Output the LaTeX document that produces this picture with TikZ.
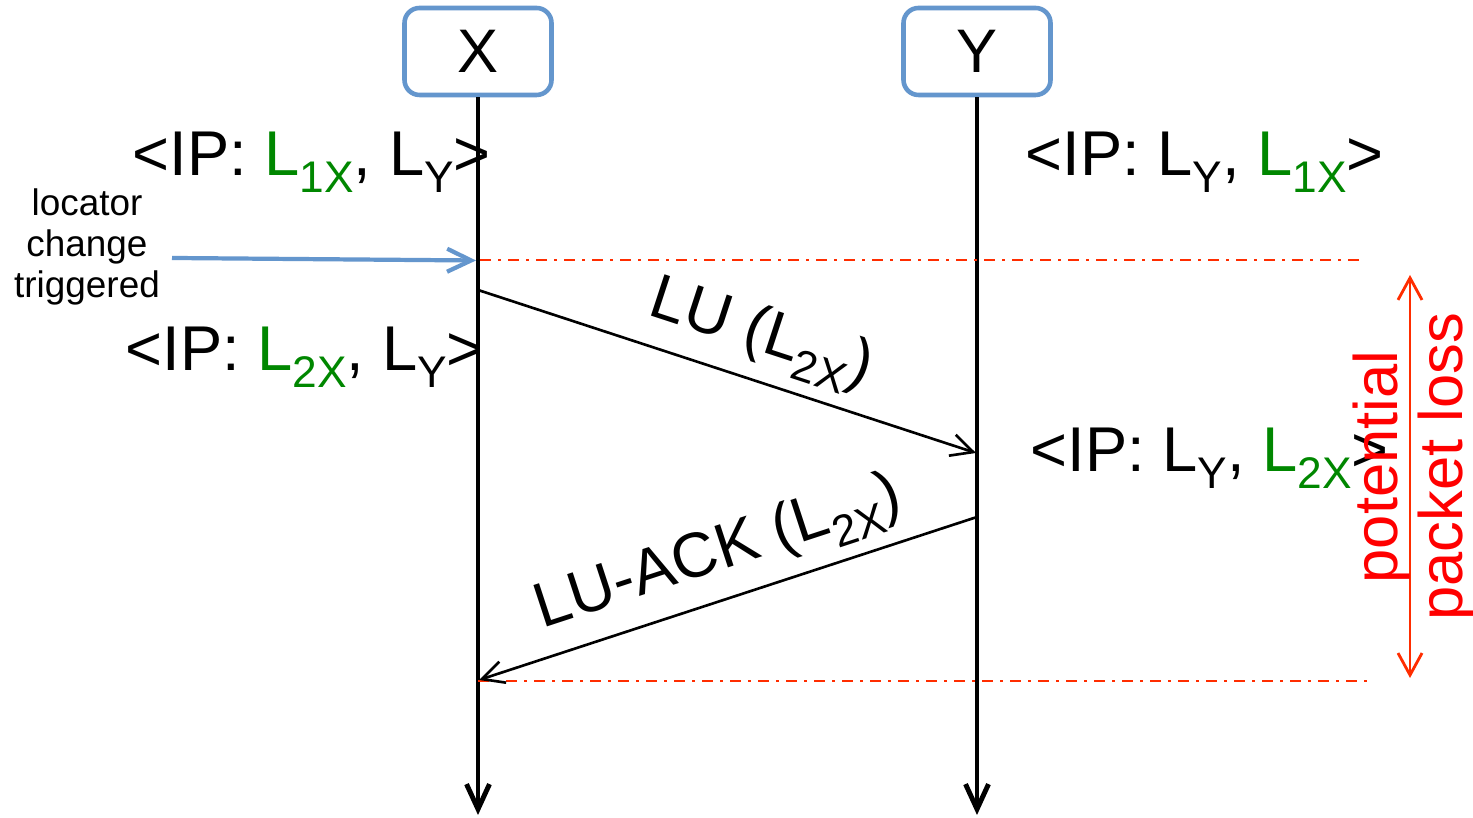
\documentclass[tikz,border=0pt]{standalone}
\usepackage{fontspec}
\setmainfont{Liberation Sans}
\usepackage{tikz}
\usetikzlibrary{arrows.meta}
\definecolor{hostblue}{RGB}{100,150,205}
\definecolor{locgreen}{RGB}{0,135,0}
\definecolor{lossred}{RGB}{255,0,0}
\definecolor{cutred}{RGB}{255,45,0}

% subscript of a locator
\newcommand{\lsub}[1]{\raisebox{-0.26em}{\fontsize{12.6}{14}\selectfont #1}}

\tikzset{
  host/.style={draw=hostblue, line width=1.3pt, rounded corners=0.15cm,
    minimum width=1.47cm, minimum height=0.87cm, font=\fontsize{17.5}{21}\selectfont},
  lifeline/.style={line width=1.4pt, -{Straight Barb[length=2.5mm,width=2.3mm]}},
  msg/.style={line width=0.75pt, -{Straight Barb[length=2.2mm,width=2.2mm]}},
  addr/.style={inner sep=0pt, anchor=base west, font=\fontsize{18}{21}\selectfont},
  msglabel/.style={font=\fontsize{18}{21}\selectfont, sloped, above},
  cutline/.style={cutred, line width=0.8pt, dash pattern=on 1.1mm off 0.7mm on 0.3mm off 0.7mm},
}

\begin{document}
\begin{tikzpicture}

% Background
\fill[white] (0,0) rectangle (14.73,8.18);
\useasboundingbox (0,0) rectangle (14.73,8.18);

% Hosts
\node[host] (X) at (4.78,7.665) {X};
\node[host] (Y) at (9.77,7.665) {Y};

% Lifelines
\coordinate (Xend) at (4.78,0.03);
\coordinate (Yend) at (9.77,0.03);
\draw[lifeline] (X) -- (Xend);
\draw[lifeline] (Y) -- (Yend);

% Addresses
\node[addr] (ipx1) at (1.32,6.42) {<IP: \textcolor{locgreen}{L\lsub{1X}}, L\lsub{Y}>};
\node[addr] (ipy1) at (10.25,6.42) {<IP: L\lsub{Y}, \textcolor{locgreen}{L\lsub{1X}}>};
\node[addr] (ipx2) at (1.25,4.47) {<IP: \textcolor{locgreen}{L\lsub{2X}}, L\lsub{Y}>};
\node[addr] (ipy2) at (10.30,3.46) {<IP: L\lsub{Y}, \textcolor{locgreen}{L\lsub{2X}}>};

% Trigger
\node[font=\fontsize{10.5}{11.6}\selectfont, align=center] (trigger) at (0.87,5.71)
  {locator\\change\\triggered};
\coordinate (trigS) at (1.72,5.60);
\coordinate (trig) at (4.76,5.575);
\draw[hostblue, line width=1.2pt, -{Straight Barb[length=2.4mm,width=2.3mm]}] (trigS) -- (trig);

% Loss window
\coordinate (cutA) at (4.80,5.58);
\coordinate (cutB) at (13.65,5.58);
\coordinate (cutC) at (4.78,1.37);
\coordinate (cutD) at (13.68,1.37);
\draw[cutline] (cutA) -- (cutB);
\draw[cutline] (cutC) -- (cutD);

% Messages
\coordinate (luS) at (4.78,5.28);
\coordinate (luE) at (9.76,3.65);
\coordinate (ackS) at (9.77,3.01);
\coordinate (ackE) at (4.79,1.38);
\draw[msg] (luS) -- node[msglabel, pos=.54] (lu) {LU (L\lsub{2X})} (luE);
\draw[msg] (ackS) -- node[msglabel, pos=.49] (ack) {LU-ACK (L\lsub{2X})} (ackE);

% Potential packet loss
\coordinate (lossT) at (14.10,5.43);
\coordinate (lossB) at (14.10,1.40);
\draw[cutred, line width=0.8pt, {Straight Barb[length=2.2mm,width=2.4mm]}-{Straight Barb[length=2.2mm,width=2.4mm]}] (lossT) -- (lossB);
\node[rotate=90, align=center, text=lossred, font=\fontsize{17.5}{18.7}\selectfont] (loss) at (14.14,3.51)
  {potential\\packet loss};

\end{tikzpicture}
\end{document}
